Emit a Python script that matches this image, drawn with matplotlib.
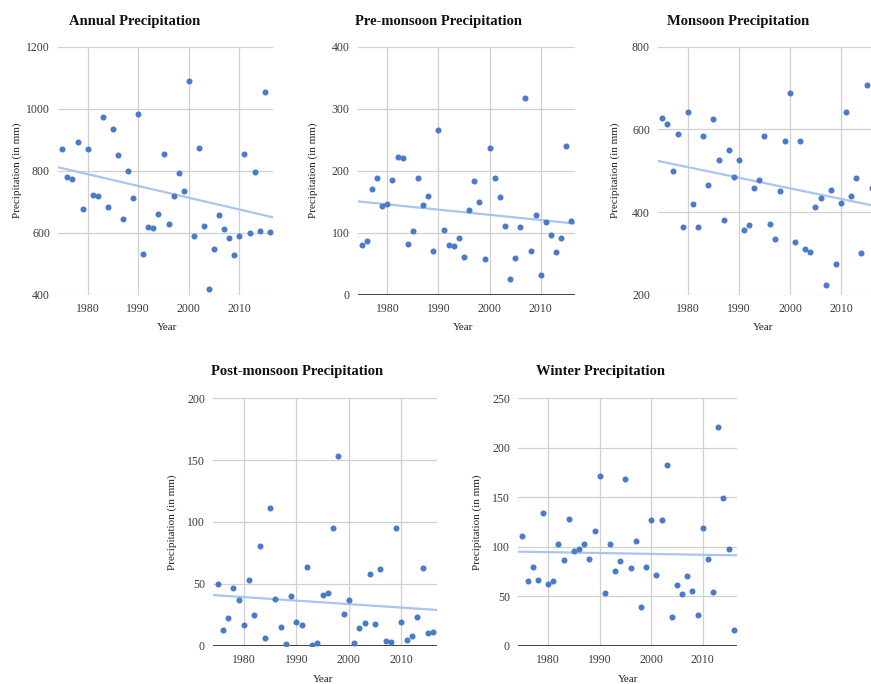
import numpy as np
import matplotlib
matplotlib.use('Agg')
import matplotlib.pyplot as plt

plt.rcParams['font.family'] = ['Liberation Serif', 'DejaVu Serif']

# data, years 1975-2016
years = list(range(1975, 2017))

annual = [870, 781, 773, 891, 677, 869, 723, 717, 974, 684,
          935, 852, 644, 799, 712, 982, 531, 618, 615, 659,
          855, 629, 719, 794, 735, 1088, 589, 872, 621, 417,
          548, 657, 613, 583, 529, 590, 853, 599, 797, 606,
          1054, 603]

pre_monsoon = [80, 87, 170, 189, 143, 147, 185, 222, 221, 82,
               103, 188, 145, 160, 71, 265, 105, 80, 79, 91,
               61, 136, 183, 150, 57, 237, 189, 158, 111, 25,
               59, 110, 317, 70, 128, 31, 117, 97, 69, 92,
               240, 119]

monsoon = [627, 614, 500, 590, 364, 642, 419, 365, 584, 466,
           624, 527, 381, 550, 485, 527, 356, 369, 459, 478,
           585, 372, 335, 452, 573, 687, 327, 573, 310, 304,
           411, 434, 223, 454, 274, 422, 642, 439, 482, 302,
           707, 457]

post_monsoon = [50, 13, 22, 47, 37, 17, 53, 25, 81, 6.5,
                111, 38, 15, 1, 40, 19, 17, 64, 0.5, 2,
                41, 43, 95, 153, 26, 37, 2, 14, 18, 58,
                17.5, 62, 3.5, 2.7, 95, 19, 5, 8, 23, 63,
                10, 11]

winter = [111, 65, 80, 66, 134, 62, 65, 103, 87, 128,
          96, 98, 103, 88, 116, 171, 53, 103, 75, 86,
          168, 79, 106, 39, 80, 127, 71, 127, 183, 29,
          61, 52, 70, 55, 31, 119, 88, 54, 221, 149,
          98, 16]

W, H = 871, 684
fig = plt.figure(figsize=(W / 100, H / 100), dpi=100)

dot_color = '#4a7bc8'
trend_color = '#a9c5ef'
grid_color = '#d0d0d0'
xlim = (1974.2, 2016.7)

# name, values, y ticks, axes box in px (left, top, right, bottom), title pos, ylabel x, xlabel pos, baseline
panels = [
    ('Annual Precipitation', annual, [400, 600, 800, 1000, 1200],
     (58.3, 46.7, 273.3, 294.7), (135, 21), 17, (167, 328), False),
    ('Pre-monsoon Precipitation', pre_monsoon, [0, 100, 200, 300, 400],
     (357.7, 46.7, 575, 294.7), (438, 21), 313, (463, 328), True),
    ('Monsoon Precipitation', monsoon, [200, 400, 600, 800],
     (658.3, 46.7, 875.2, 294.7), (738, 21), 615, (763, 328), False),
    ('Post-monsoon Precipitation', post_monsoon, [0, 50, 100, 150, 200],
     (213.3, 398.3, 436.7, 645.7), (297, 372), 172, (323, 679), True),
    ('Winter Precipitation', winter, [0, 50, 100, 150, 200, 250],
     (518.3, 398.3, 737.3, 645.7), (600, 372), 477, (628, 679), True),
]

for title, vals, yt, box, tpos, ylx, xlpos, base in panels:
    l, t, r, b = box
    ax = fig.add_axes([l / W, 1 - b / H, (r - l) / W, (b - t) / H])
    ax.set_xlim(*xlim)
    ax.set_ylim(yt[0], yt[-1])
    ax.set_xticks([1980, 1990, 2000, 2010])
    ax.set_yticks(yt)
    ax.grid(True, color=grid_color, linewidth=0.9)
    ax.set_axisbelow(True)
    for s in ax.spines.values():
        s.set_visible(False)
    ax.tick_params(length=0, labelsize=8.5, labelcolor='#3a3a3a', pad=6)
    if base:
        ax.axhline(0, color='#333333', linewidth=1.3, zorder=1)

    # linear trend line over the visible x range
    k, c = np.polyfit(years, vals, 1)
    xs = np.array(xlim)
    ax.plot(xs, k * xs + c, color=trend_color, linewidth=1.6, zorder=2)
    ax.scatter(years, vals, s=19, color=dot_color, zorder=3, linewidths=0)

    fig.text(tpos[0] / W, 1 - tpos[1] / H, title, ha='center', va='center',
             fontsize=10.5, fontweight='bold', color='#111111')
    fig.text(ylx / W, 1 - (t + b) / 2 / H, 'Precipitation (in mm)', rotation=90,
             ha='center', va='center', fontsize=8, color='#222222')
    fig.text(xlpos[0] / W, 1 - xlpos[1] / H, 'Year', ha='center', va='center',
             fontsize=8, color='#222222')

fig.savefig('out.png', dpi=100)
